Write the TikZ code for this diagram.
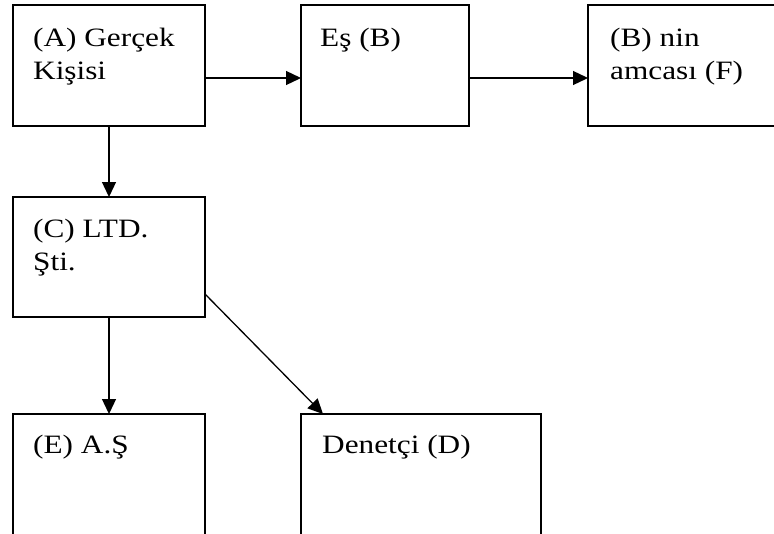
\documentclass[tikz,border=0pt]{standalone}
\usepackage{fontspec}
\newfontfamily\tnr[FakeStretch=1.18]{Liberation Serif}
\usetikzlibrary{arrows.meta,calc}
\begin{document}
\begin{tikzpicture}[x=1pt,y=-1pt,
  box/.style={draw, line width=1.5pt, rectangle, anchor=north west, inner sep=0pt, outer sep=0pt},
  lbl/.style={anchor=base west, inner sep=0pt, font=\tnr\fontsize{26.5}{32.7}\selectfont},
  arr/.style={line width=1.3pt, -{Triangle[length=15pt,width=14pt]}}]
\useasboundingbox (0,0) rectangle (774,533);
\clip (0,0) rectangle (774,533);
\fill[white] (0,0) rectangle (774,533);
\node[box, minimum width=192pt, minimum height=121pt] (A) at (13,5) {};
\node[box, minimum width=168pt, minimum height=121pt] (B) at (301,5) {};
\node[box, minimum width=210pt, minimum height=121pt] (F) at (588,5) {};
\node[box, minimum width=192pt, minimum height=120pt] (C) at (13,197) {};
\node[box, minimum width=192pt, minimum height=140pt] (E) at (13,414) {};
\node[box, minimum width=240pt, minimum height=140pt] (D) at (301,414) {};
\node[lbl] (tA) at (33,46.7) {\begin{tabular}[t]{@{}l@{}}(A) Gerçek\\Kişisi\end{tabular}};
\node[lbl] (tB) at (320,46.5) {Eş (B)};
\node[lbl] (tF) at (610,46.5) {\begin{tabular}[t]{@{}l@{}}(B) nin\\amcası (F)\end{tabular}};
\node[lbl] (tC) at (33,237.3) {\begin{tabular}[t]{@{}l@{}}(C) LTD.\\Şti.\end{tabular}};
\node[lbl] (tE) at (33,453.3) {(E) A.Ş};
\node[lbl] (tD) at (322,453.3) {Denetçi (D)};
\coordinate (yAB) at (0,78);
\coordinate (yCD) at (0,294);
\draw[arr] (A.east |- yAB) -- (B.west |- yAB);
\draw[arr] (B.east |- yAB) -- (F.west |- yAB);
\draw[arr] (A.south) -- (C.north);
\draw[arr] (C.south) -- (E.north);
\draw[arr] (C.east |- yCD) -- ($(D.north west)+(22,0)$);
\end{tikzpicture}
\end{document}
